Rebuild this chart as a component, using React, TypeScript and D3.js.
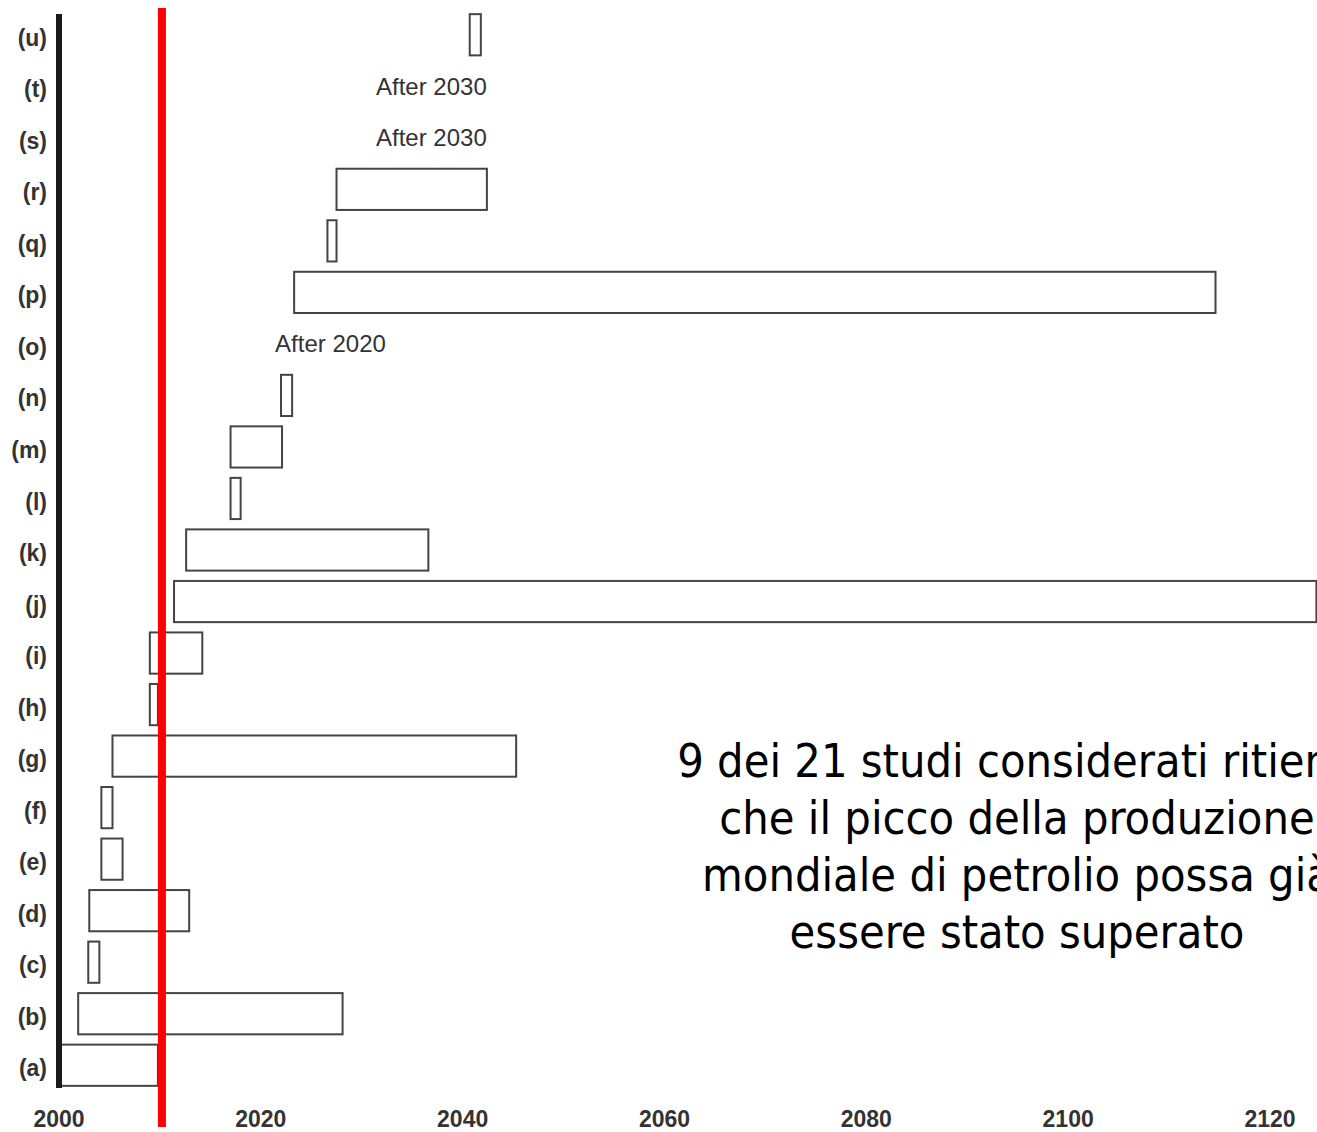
import React, { useEffect, useRef } from "react";
import * as d3 from "d3";

const WIDTH = 1317;
const HEIGHT = 1132;

// studies, bottom to top
const studies = ["(a)", "(b)", "(c)", "(d)", "(e)", "(f)", "(g)", "(h)", "(i)", "(j)", "(k)", "(l)", "(m)", "(n)", "(o)", "(p)", "(q)", "(r)", "(s)", "(t)", "(u)"];
// estimated peak window start / end (null = no bar)
const peakFrom = [2000, 2001.9, 2002.9, 2003.0, 2004.2, 2004.2, 2005.3, 2009.0, 2009.0, 2011.4, 2012.6, 2017.0, 2017.0, 2022.0, null, 2023.3, 2026.6, 2027.5, null, null, 2040.7];
const peakTo = [2009.8, 2028.1, 2004.0, 2012.9, 2006.3, 2005.3, 2045.3, 2009.8, 2014.2, 2124.6, 2036.6, 2018.0, 2022.1, 2023.1, null, 2114.6, 2027.5, 2042.4, null, null, 2041.8];
// text entries instead of bars
const noteRows = ["(o)", "(s)", "(t)"];
const noteTexts = ["After 2020", "After 2030", "After 2030"];
const noteYears = [2026.9, 2036.9, 2036.9];

const xTicks = [2000, 2020, 2040, 2060, 2080, 2100, 2120];
const today = 2010.2;

const message = [
  "9 dei 21 studi considerati ritiene",
  "che il picco della produzione",
  "mondiale di petrolio possa già",
  "essere stato superato",
];

export default function App() {
  const ref = useRef<SVGSVGElement | null>(null);

  useEffect(() => {
    const svg = d3.select(ref.current);
    svg.selectAll("*").remove();

    const x = d3.scaleLinear().domain([2000, 2120]).range([59, 1270]);
    const y = d3
      .scaleBand()
      .domain(studies)
      .range([1086 + 5, 14 - 5])
      .paddingInner(0.2)
      .paddingOuter(0.1);

    const rows = studies
      .map((s, i) => ({ s, from: peakFrom[i], to: peakTo[i] }))
      .filter((d) => d.from !== null);

    svg
      .append("g")
      .selectAll("rect")
      .data(rows)
      .enter()
      .append("rect")
      .attr("x", (d) => x(d.from as number))
      .attr("y", (d) => y(d.s) as number)
      .attr("width", (d) => x(d.to as number) - x(d.from as number))
      .attr("height", y.bandwidth())
      .attr("fill", "#fff")
      .attr("stroke", "#444")
      .attr("stroke-width", 2);

    svg
      .append("g")
      .selectAll("text")
      .data(noteRows)
      .enter()
      .append("text")
      .attr("x", (d, i) => x(noteYears[i]))
      .attr("y", (d) => (y(d) as number) + y.bandwidth() / 2)
      .attr("dy", "0.35em")
      .attr("text-anchor", "middle")
      .attr("font-family", "Liberation Sans, Arial, sans-serif")
      .attr("font-size", 24)
      .attr("fill", "#333")
      .text((d, i) => noteTexts[i]);

    // row labels
    svg
      .append("g")
      .selectAll("text")
      .data(studies)
      .enter()
      .append("text")
      .attr("x", 47)
      .attr("y", (d) => (y(d) as number) + y.bandwidth() / 2 + 3)
      .attr("dy", "0.35em")
      .attr("text-anchor", "end")
      .attr("font-family", "Liberation Sans, Arial, sans-serif")
      .attr("font-weight", "bold")
      .attr("font-size", 23)
      .attr("fill", "#333")
      .text((d) => d);

    // x tick labels
    svg
      .append("g")
      .selectAll("text")
      .data(xTicks)
      .enter()
      .append("text")
      .attr("x", (d) => x(d))
      .attr("y", 1127)
      .attr("text-anchor", "middle")
      .attr("font-family", "Liberation Sans, Arial, sans-serif")
      .attr("font-weight", "bold")
      .attr("font-size", 23)
      .attr("fill", "#333")
      .text((d) => d);

    // vertical axis
    svg
      .append("line")
      .attr("x1", x(2000))
      .attr("x2", x(2000))
      .attr("y1", 14)
      .attr("y2", 1088)
      .attr("stroke", "#1a1a1a")
      .attr("stroke-width", 6);

    // current year marker
    svg
      .append("line")
      .attr("x1", x(today))
      .attr("x2", x(today))
      .attr("y1", 8)
      .attr("y2", 1127)
      .attr("stroke", "#ff0000")
      .attr("stroke-width", 8);

    svg
      .append("g")
      .selectAll("text")
      .data(message)
      .enter()
      .append("text")
      .attr("x", 1017)
      .attr("y", (d, i) => 777 + i * 57)
      .attr("text-anchor", "middle")
      .attr("font-family", "DejaVu Sans Condensed, DejaVu Sans, sans-serif")
      .attr("font-stretch", "condensed")
      .attr("font-size", 46.5)
      .attr("fill", "#000")
      .text((d) => d);
  }, []);

  return (
    <svg
      ref={ref}
      width={WIDTH}
      height={HEIGHT}
      style={{ position: "absolute", left: 0, top: 0, background: "#fff" }}
    />
  );
}
